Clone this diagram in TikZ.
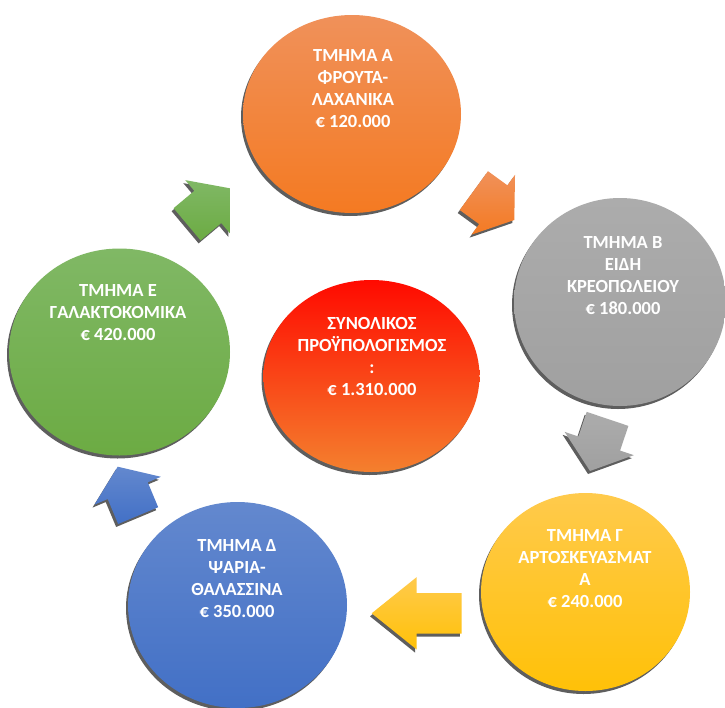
\documentclass[tikz,border=0pt]{standalone}
\usepackage{fontspec}
\setmainfont{Carlito}
\usetikzlibrary{shapes.geometric,shadows}
\definecolor{shadowgray}{HTML}{5E5E5E}
\definecolor{orT}{HTML}{F0915A}\definecolor{orB}{HTML}{F47A22}
\definecolor{grT}{HTML}{ACACAC}\definecolor{grB}{HTML}{A0A0A0}
\definecolor{yeT}{HTML}{FFCA4C}\definecolor{yeB}{HTML}{FFC108}
\definecolor{blT}{HTML}{6388CE}\definecolor{blB}{HTML}{4270C6}
\definecolor{gnT}{HTML}{80B865}\definecolor{gnB}{HTML}{6CAB43}
\definecolor{rdT}{HTML}{FF0A00}\definecolor{rdB}{HTML}{F4802E}
\tikzset{
  bubble/.style n args={2}{ellipse, inner sep=0pt, draw=none,
    top color=#1, bottom color=#2,
    drop shadow={shadow xshift=-2pt, shadow yshift=-3pt, fill=shadowgray, opacity=1}},
  btext/.style={text=white, font=\fontsize{18.5}{22}\selectfont\bfseries,
    align=center, inner sep=0pt, anchor=north},
  pics/barrow/.style n args={6}{code={
    \path[top color=#5, bottom color=#6]
      (-#1-#2,#3) -- (-#2,#3) -- (-#2,#4) -- (0,0) -- (-#2,-#4) -- (-#2,-#3) -- (-#1-#2,-#3) -- cycle;}}
}
\begin{document}
\begin{tikzpicture}[x=1pt,y=-1pt]
\useasboundingbox[fill=white] (0,0) rectangle (725,707);

% circles
\node[bubble={orT}{orB}, minimum width=218pt, minimum height=198pt] (cA) at (352,114) {};
\node[bubble={grT}{grB}, minimum width=212pt, minimum height=208pt] (cB) at (620,302) {};
\node[bubble={yeT}{yeB}, minimum width=209pt, minimum height=198pt] (cG) at (585.5,592) {};
\node[bubble={blT}{blB}, minimum width=219pt, minimum height=206pt] (cD) at (237.5,605) {};
\node[bubble={gnT}{gnB}, minimum width=221pt, minimum height=207pt] (cE) at (119.5,352) {};
\node[bubble={rdT}{rdB}, minimum width=216pt, minimum height=192pt] (cT) at (371.5,376) {};

% block arrows: shadow then body
\pic[rotate=-36] at (512.3,223) {barrow={24}{26}{24}{37}{shadowgray}{shadowgray}};
\pic[rotate=-36] (aAB) at (514.3,220) {barrow={24}{26}{24}{37}{orT}{orB}};
\pic[rotate=-108.6] at (588,474) {barrow={26}{29}{22}{36.5}{shadowgray}{shadowgray}};
\pic[rotate=-108.6] (aBG) at (590,471) {barrow={26}{29}{22}{36.5}{grT}{grB}};
\pic[rotate=180] at (370,616.3) {barrow={45}{45}{20.3}{36.2}{shadowgray}{shadowgray}};
\pic[rotate=180] (aGD) at (371.7,613.3) {barrow={45}{45}{20.3}{36.2}{yeT}{yeB}};
\pic[rotate=112.7] at (115.7,469.7) {barrow={27}{26}{21.7}{36}{shadowgray}{shadowgray}};
\pic[rotate=112.7] (aDE) at (117.7,466.7) {barrow={27}{26}{21.7}{36}{blT}{blB}};
\pic[rotate=40] at (228,191.3) {barrow={27}{29}{21}{35}{shadowgray}{shadowgray}};
\pic[rotate=40] (aEA) at (230,188.3) {barrow={27}{29}{21}{35}{gnT}{gnB}};

% texts
\node[btext] (tA) at (353,47.5) {\rule{0pt}{13.5pt}ΤΜΗΜΑ Α\\ΦΡΟΥΤΑ-\\ΛΑΧΑΝΙΚΑ\\€ 120.000};
\node[btext] (tB) at (623,234.5) {\rule{0pt}{13.5pt}ΤΜΗΜΑ Β\\ΕΙΔΗ\\ΚΡΕΟΠΩΛΕΙΟΥ\\€ 180.000};
\node[btext] (tG) at (585,527.5) {\rule{0pt}{13.5pt}ΤΜΗΜΑ Γ\\ΑΡΤΟΣΚΕΥΑΣΜΑΤ\\Α\\€ 240.000};
\node[btext] (tD) at (237,537.5) {\rule{0pt}{13.5pt}ΤΜΗΜΑ Δ\\ΨΑΡΙΑ-\\ΘΑΛΑΣΣΙΝΑ\\€ 350.000};
\node[btext] (tE) at (118,282.5) {\rule{0pt}{13.5pt}ΤΜΗΜΑ Ε\\ΓΑΛΑΚΤΟΚΟΜΙΚΑ\\€ 420.000};
\node[btext] (tT) at (372,315.5) {\rule{0pt}{13.5pt}ΣΥΝΟΛΙΚΟΣ\\ΠΡΟΫΠΟΛΟΓΙΣΜΟΣ\\:\\€ 1.310.000};
\end{tikzpicture}
\end{document}
